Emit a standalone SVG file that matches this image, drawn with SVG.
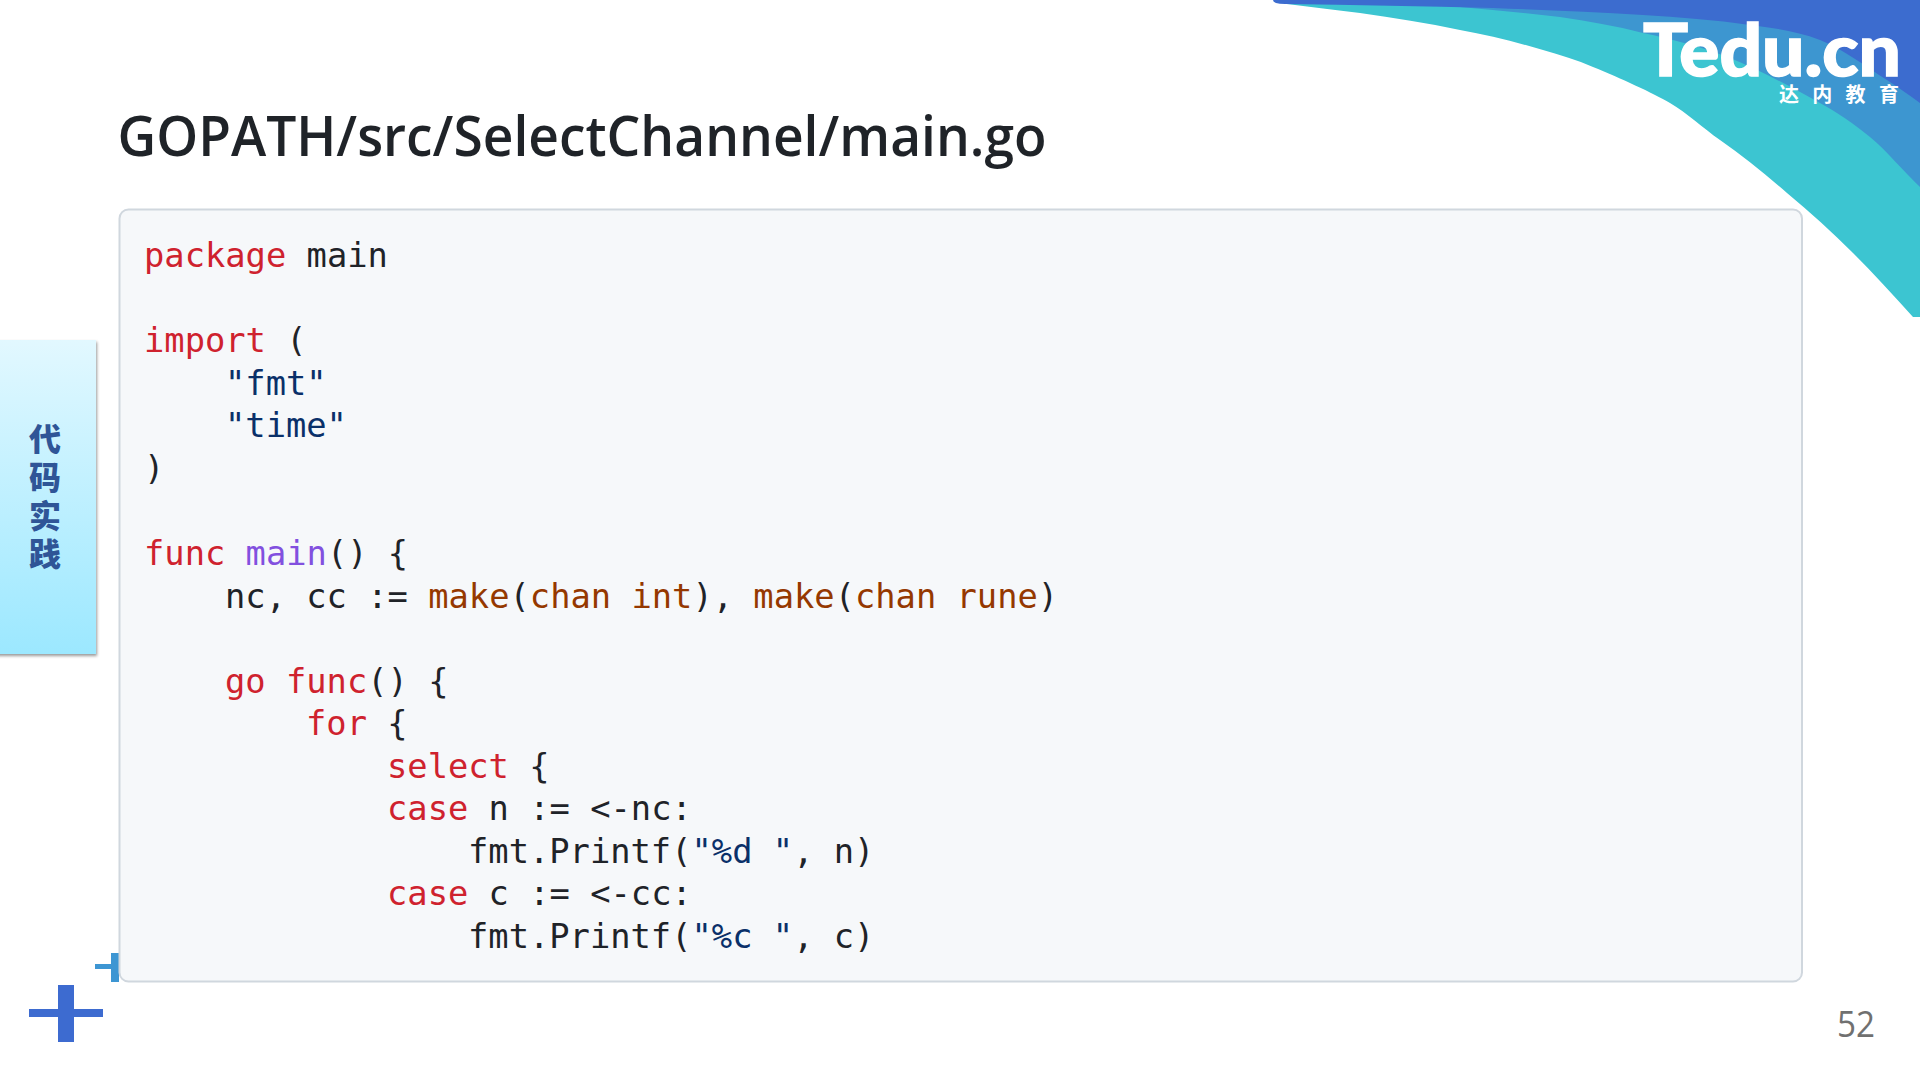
<svg xmlns="http://www.w3.org/2000/svg" width="1920" height="1080" viewBox="0 0 1920 1080">
<defs>
<linearGradient id="tabGrad" x1="0" y1="0" x2="0" y2="1"><stop offset="0" stop-color="#e2f8ff"/><stop offset="1" stop-color="#9ce8ff"/></linearGradient>
<filter id="tabShadow" x="-10%" y="-5%" width="125%" height="110%"><feDropShadow dx="1" dy="2" stdDeviation="1.6" flood-color="#000" flood-opacity="0.4"/></filter>
</defs>
<style>
.code{font-family:"DejaVu Sans Mono","Liberation Mono",monospace;font-size:33.75px;fill:#1f2328;white-space:pre}
.k{fill:#cf222e}.s{fill:#0a3069}.f{fill:#8250df}.b{fill:#953800}
</style>
<rect width="1920" height="1080" fill="#fff"/>
<g id="swoosh">
<path fill="#3cc5d1" d="M1280 0 L1920 0 L1920 317 L1913 317 C1893 295 1873 273 1853 253 C1832 232 1810 212 1787 193 C1765 174 1743 156 1720 140 C1703 128 1687 113 1670 103 C1653 93 1620 78 1593 67 C1577 60 1560 55 1543 50 C1516 42 1488 35 1460 30 C1427 23 1394 18 1360 13 C1335 10 1311 7 1287 4 Z"/>
<path fill="#3d96d0" d="M1400 0 L1920 0 L1920 187 C1904 172 1887 151 1870 137 C1853 123 1838 113 1820 103 C1791 87 1760 70 1730 58 C1702 47 1672 39 1643 33 C1616 26 1588 21 1560 17 C1527 13 1493 10 1460 7 Z"/>
<path fill="#3c6ccf" d="M1273 0 L1920 0 L1920 103 C1909 95 1898 87 1887 80 C1865 66 1843 49 1820 40 C1797 31 1773 28 1750 25 C1715 20 1679 17 1643 15 C1593 12 1543 10 1493 8 C1424 6 1354 5 1285 4 Q1273 4 1273 0 Z"/>
</g>
<g id="logo" fill="#fff">
<text x="1643" y="76" font-family="Lato,Roboto,sans-serif" font-weight="900" font-size="72" stroke="#fff" stroke-width="1.5" textLength="258" lengthAdjust="spacingAndGlyphs">Tedu.cn</text>
<text x="1779" y="102" font-family="'Noto Sans CJK SC',sans-serif" font-weight="700" font-size="20" letter-spacing="13.3">达内教育</text>
</g>
<g id="deco-plus">
<path fill="#3d96d3" d="M95 964h16v-11h8v29h-8v-13h-16z"/>
<path fill="#3d6bd0" d="M58 985h16v24h29v8h-29v25h-16v-25h-29v-8h29z"/>
</g>
<text id="title" x="117.5" y="156" font-family="'Open Sans',sans-serif" font-weight="600" font-size="56" fill="#1f2328" textLength="929" lengthAdjust="spacingAndGlyphs">GOPATH/src/SelectChannel/main.go</text>
<g id="tab">
<rect x="-6" y="340" width="102" height="314" fill="url(#tabGrad)" filter="url(#tabShadow)"/>
<text font-family="'Noto Sans CJK SC',sans-serif" font-weight="900" font-size="32" fill="#2f5597" text-anchor="middle"><tspan x="45" y="451">代</tspan><tspan x="45" y="489">码</tspan><tspan x="45" y="528">实</tspan><tspan x="45" y="566">践</tspan></text>
</g>
<g id="code-block">
<rect x="119.5" y="209.5" width="1682.5" height="772" rx="9" fill="#f6f8fa" stroke="#d0d7de" stroke-width="2"/>
<text class="code" xml:space="preserve" x="144" y="267"><tspan class="k">package</tspan> main</text>
<text class="code" xml:space="preserve" x="144" y="352"><tspan class="k">import</tspan> (</text>
<text class="code s" xml:space="preserve" x="225" y="394.6">"fmt"</text>
<text class="code s" xml:space="preserve" x="225" y="437.2">"time"</text>
<text class="code" xml:space="preserve" x="144" y="479.8">)</text>
<text class="code" xml:space="preserve" x="144" y="564.9"><tspan class="k">func</tspan> <tspan class="f">main</tspan>() {</text>
<text class="code" xml:space="preserve" x="225" y="607.6">nc, cc := <tspan class="b">make</tspan>(<tspan class="b">chan int</tspan>), <tspan class="b">make</tspan>(<tspan class="b">chan rune</tspan>)</text>
<text class="code" xml:space="preserve" x="225" y="692.5"><tspan class="k">go</tspan> <tspan class="k">func</tspan>() {</text>
<text class="code" xml:space="preserve" x="306" y="735.1"><tspan class="k">for</tspan> {</text>
<text class="code" xml:space="preserve" x="387" y="777.6"><tspan class="k">select</tspan> {</text>
<text class="code" xml:space="preserve" x="387" y="820.2"><tspan class="k">case</tspan> n := &lt;-nc:</text>
<text class="code" xml:space="preserve" x="468" y="862.7">fmt.Printf(<tspan class="s">"%d "</tspan>, n)</text>
<text class="code" xml:space="preserve" x="387" y="905.3"><tspan class="k">case</tspan> c := &lt;-cc:</text>
<text class="code" xml:space="preserve" x="468" y="947.8">fmt.Printf(<tspan class="s">"%c "</tspan>, c)</text>
</g>
<text id="page-number" x="1837" y="1037" font-family="'Open Sans',sans-serif" font-size="36" fill="#707070" textLength="38" lengthAdjust="spacingAndGlyphs">52</text>
</svg>
